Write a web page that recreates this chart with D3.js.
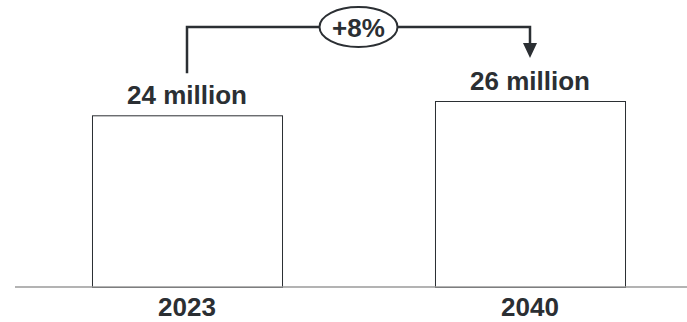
<!DOCTYPE html>
<html>
<head>
<meta charset="utf-8">
<script src="https://cdn.jsdelivr.net/npm/d3@7"></script>
<style>
  html, body { margin: 0; padding: 0; background: #fff; }
  svg { display: block; }
  text { font-family: "Liberation Sans", Arial, Helvetica, sans-serif; font-weight: bold; fill: #2b2f33; }
</style>
</head>
<body>
<svg id="chart" width="687" height="322"></svg>
<script>
const categories = ["2023", "2040"];
const values = [24, 26];
const valueLabels = ["24 million", "26 million"];
const changeLabel = "+8%";

const W = 687, H = 322;
const svg = d3.select("#chart");
const ink = "#2b2f33";

const x = d3.scaleBand()
  .domain(categories)
  .range([15.5, 701.5])
  .paddingInner(0.446)
  .paddingOuter(0.223);

const y = d3.scaleLinear().domain([0, 26]).range([287, 101]);

// bars
svg.selectAll("rect.bar")
  .data(values)
  .join("rect")
  .attr("class", "bar")
  .attr("x", (d, i) => x(categories[i]) + 0.5)
  .attr("y", d => y(d) + 0.5)
  .attr("width", x.bandwidth())
  .attr("height", d => y(0) - y(d))
  .attr("fill", "#fff")
  .attr("stroke", ink)
  .attr("stroke-width", 1);

// baseline axis
const xAxis = d3.axisBottom(x).tickSize(0).tickPadding(14);
const gx = svg.append("g").attr("transform", `translate(0,${y(0)})`).call(xAxis);
gx.select(".domain").remove();
gx.selectAll("text")
  .attr("font-size", 26)
  .attr("font-family", "'Liberation Sans', Arial, sans-serif")
  .attr("font-weight", "bold")
  .attr("fill", ink)
  .attr("dy", null)
  .attr("y", 29);
svg.append("line")
  .attr("x1", 15).attr("x2", W)
  .attr("y1", y(0)).attr("y2", y(0))
  .attr("stroke", "#9a9a9a")
  .attr("stroke-width", 1.6);

// value labels
svg.selectAll("text.val")
  .data(values)
  .join("text")
  .attr("class", "val")
  .attr("x", (d, i) => x(categories[i]) + x.bandwidth() / 2)
  .attr("y", d => y(d) - 11)
  .attr("text-anchor", "middle")
  .attr("font-size", 26)
  .text((d, i) => valueLabels[i]);

// bracket with arrow
const xl = x(categories[0]) + x.bandwidth() / 2;
const xr = x(categories[1]) + x.bandwidth() / 2;
const yTop = 27;
const yL = y(values[0]) - 42;
const tip = y(values[1]) - 43;
const headH = 15, headW = 14;

svg.append("path")
  .attr("d", `M${xl},${yL} V${yTop} H${xr} V${tip - headH + 1}`)
  .attr("fill", "none")
  .attr("stroke", ink)
  .attr("stroke-width", 2.5);
svg.append("path")
  .attr("d", `M${xr - headW / 2},${tip - headH} L${xr + headW / 2},${tip - headH} L${xr},${tip} Z`)
  .attr("fill", ink);

// change ellipse
const cx = (xl + xr) / 2;
svg.append("ellipse")
  .attr("cx", cx).attr("cy", yTop)
  .attr("rx", 39).attr("ry", 20)
  .attr("fill", "#fff")
  .attr("stroke", ink)
  .attr("stroke-width", 2);
svg.append("text")
  .attr("x", cx).attr("y", yTop + 9.5)
  .attr("text-anchor", "middle")
  .attr("font-size", 26)
  .text(changeLabel);
</script>
</body>
</html>
